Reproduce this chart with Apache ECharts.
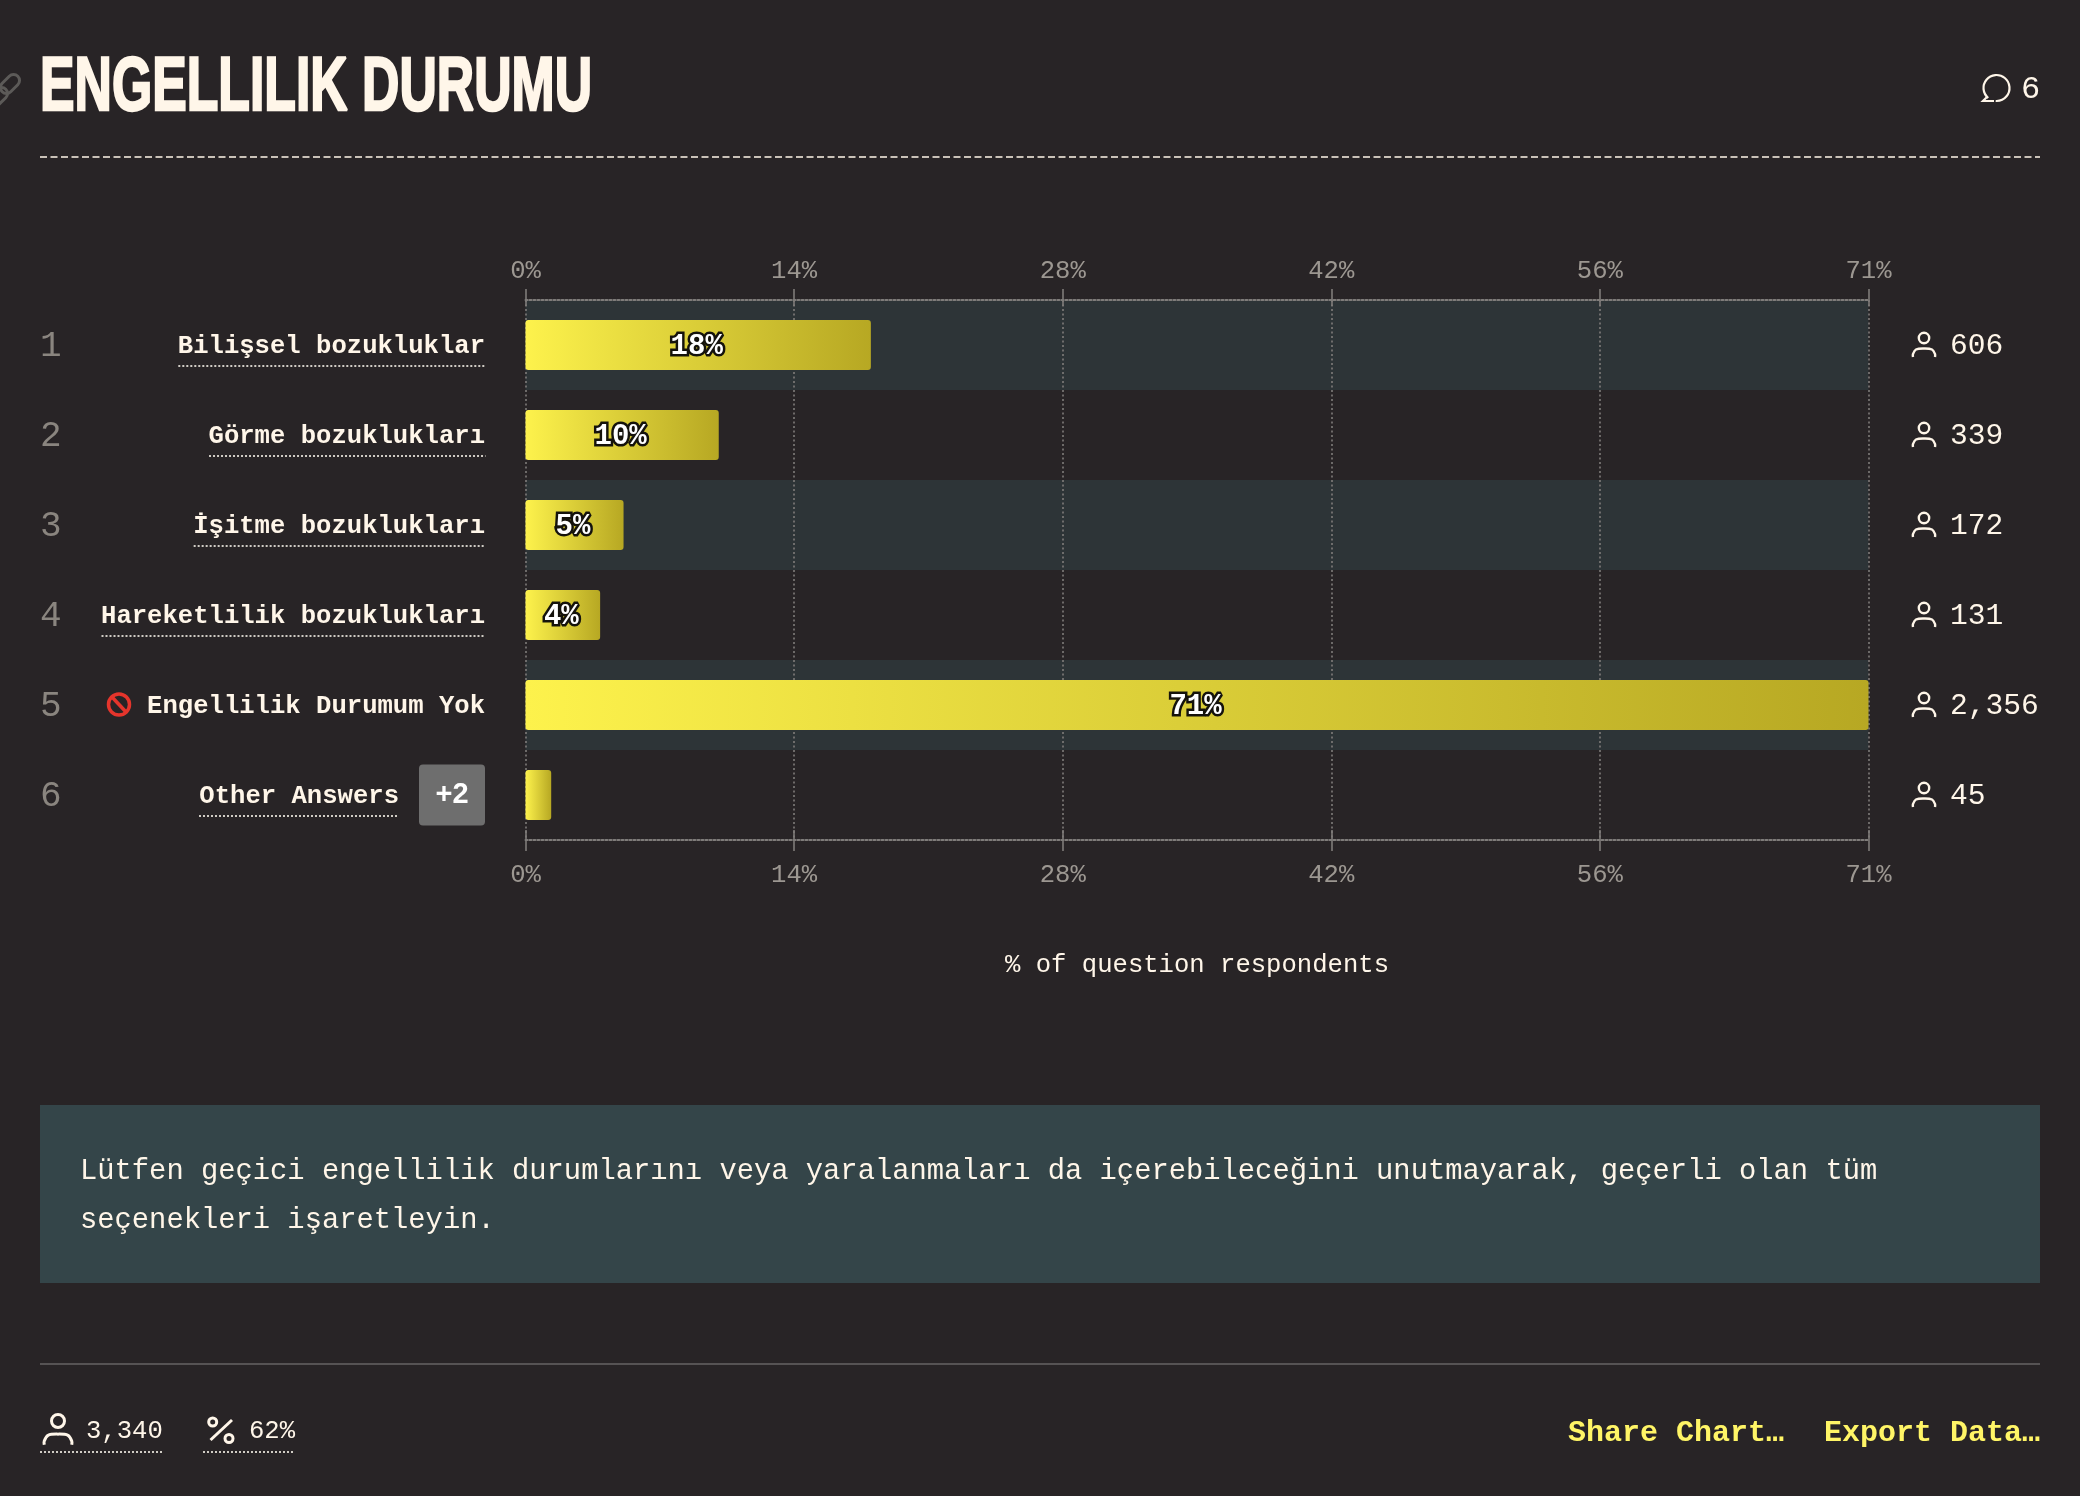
<!DOCTYPE html>
<html>
<head>
<meta charset="utf-8">
<style>html,body{margin:0;padding:0;background:#282426}#c{width:2080px;height:1496px}</style>
<script src="https://cdn.jsdelivr.net/npm/echarts@6/dist/echarts.min.js"></script>
</head>
<body>
<div id="c"></div>
<script>
const titleText = 'ENGELLILIK DURUMU';
const commentCount = '6';
const categories = ['Bilişsel bozukluklar','Görme bozuklukları','İşitme bozuklukları','Hareketlilik bozuklukları','Engellilik Durumum Yok','Other Answers'];
const ranks = ['1','2','3','4','5','6'];
const shares = [18.14,10.15,5.15,3.92,70.54,1.35];
const barLabels = ['18%','10%','5%','4%','71%',''];
const counts = ['606','339','172','131','2,356','45'];
const tickLabels = ['0%','14%','28%','42%','56%','71%'];
const axisMax = 70.54;
const axisName = '% of question respondents';
const noteLines = ['Lütfen geçici engellilik durumlarını veya yaralanmaları da içerebileceğini unutmayarak, geçerli olan tüm','seçenekleri işaretleyin.'];
const footerTotal = '3,340';
const footerPct = '62%';
const footerActions = ['Share Chart…','Export Data…'];
const otherBadge = '+2';

const BG='#282426', CREAM='#fff6e9', TICK='#7f7c7a', LABEL='#9c9791', MONO='"Liberation Mono","DejaVu Sans Mono",monospace';
const chart = echarts.init(document.getElementById('c'),null,{renderer:'canvas',devicePixelRatio:1});
const interval = axisMax/5;
const tickFmt = v => tickLabels[Math.round(v/interval)] ?? '';
const xBase = {type:'value',min:0,max:axisMax,interval:interval};
chart.setOption({
  animation:false,
  backgroundColor:BG,
  grid:{left:525.5,right:211.5,top:300,bottom:656,containLabel:false},
  xAxis:[
    {...xBase,position:'top',
      axisLine:{show:true,lineStyle:{color:TICK,width:2,type:[2,2]}},
      axisTick:{show:true,length:11,lineStyle:{color:TICK,width:1.6}},
      axisLabel:{show:true,formatter:tickFmt,color:LABEL,fontFamily:MONO,fontSize:25.6,margin:16},
      splitLine:{show:true,lineStyle:{color:TICK,width:1.6,type:[2,2.5]}}},
    {...xBase,position:'bottom',
      name:axisName,nameLocation:'middle',nameGap:112,nameTextStyle:{color:CREAM,fontFamily:MONO,fontSize:25.6},
      axisLine:{show:true,lineStyle:{color:TICK,width:2,type:[2,2]}},
      axisTick:{show:true,length:11,lineStyle:{color:TICK,width:1.6}},
      axisLabel:{show:true,formatter:tickFmt,color:LABEL,fontFamily:MONO,fontSize:25.6,margin:22},
      splitLine:{show:false}},
    {...xBase,position:'top',axisLine:{show:false},axisLabel:{show:false},splitLine:{show:false},
      axisTick:{show:true,inside:true,length:6,lineStyle:{color:TICK,width:1.6}}},
    {...xBase,position:'bottom',axisLine:{show:false},axisLabel:{show:false},splitLine:{show:false},
      axisTick:{show:true,inside:true,length:10,lineStyle:{color:TICK,width:1.6}}}
  ],
  yAxis:[
    {type:'category',data:categories,inverse:true,position:'left',
      axisLine:{show:false},axisTick:{show:false},splitLine:{show:false},
      splitArea:{show:true,areaStyle:{color:['#2d3437','rgba(0,0,0,0)']}},
      axisLabel:{color:CREAM,fontFamily:MONO,fontWeight:'bold',fontSize:25.6,margin:40.5,interval:0,
        formatter:(v,i)=> i===5 ? `{n|${v}}{g|}{b|${otherBadge}}` : `{t|${v}}`,
        rich:{
          t:{color:CREAM,fontFamily:MONO,fontWeight:'bold',fontSize:25.6,padding:[3,0,0,0]},
          n:{color:CREAM,fontFamily:MONO,fontWeight:'bold',fontSize:25.6,padding:[3,0,0,0]},
          g:{width:20},
          b:{backgroundColor:'#6e6e6e',color:'#fff',fontFamily:'"Liberation Sans"',fontWeight:'bold',fontSize:29,width:66,height:61,lineHeight:61,align:'center',borderRadius:4}
        }}},
    {type:'category',data:ranks,inverse:true,position:'left',
      axisLine:{show:false},axisTick:{show:false},splitLine:{show:false},splitArea:{show:false},
      axisLabel:{margin:485.5,align:'left',interval:0,formatter:v=>`{r|${v}}`,
        rich:{r:{color:'#8a857f',fontFamily:MONO,fontSize:36,padding:[3,0,0,0]}}}},
    {type:'category',data:counts,inverse:true,position:'right',
      axisLine:{show:false},axisTick:{show:false},splitLine:{show:false},splitArea:{show:false},
      axisLabel:{margin:81.5,align:'left',interval:0,formatter:v=>`{c|${v}}`,
        rich:{c:{color:CREAM,fontFamily:MONO,fontSize:29.6,padding:[3,0,0,0]}}}}
  ],
  series:[{
    type:'bar',xAxisIndex:0,yAxisIndex:0,barWidth:50,data:shares,z:3,
    itemStyle:{borderRadius:3,color:new echarts.graphic.LinearGradient(0,0,1,0,[{offset:0,color:'#fdf24c'},{offset:1,color:'#b7a823'}])},
    label:{show:true,position:'inside',offset:[-1.5,2],formatter:p=>barLabels[p.dataIndex],color:'#fff',fontFamily:MONO,fontWeight:'bold',fontSize:29,textBorderColor:'#15130c',textBorderWidth:5}
  }]
});

function personIcon(x,y,s,lw){ // x,y = centre of head
  return [
    {type:'circle',shape:{cx:x,cy:y,r:5.2*s},style:{fill:'transparent',stroke:CREAM,lineWidth:lw}},
    {type:'polyline',shape:{smooth:0.35,points:[[x-11*s,y+19*s],[x-11*s,y+16*s],[x-8*s,y+11.5*s],[x,y+10.5*s],[x+8*s,y+11.5*s],[x+11*s,y+16*s],[x+11*s,y+19*s]]},style:{fill:'transparent',stroke:CREAM,lineWidth:lw}}
  ];
}
function dotted(x1,x2,y){
  return {type:'line',shape:{x1,y1:y,x2,y2:y},style:{stroke:'#cfcbc4',lineWidth:2,lineDash:[2,2]}};
}
const rowY = categories.map((c,i)=>chart.convertToPixel({yAxisIndex:0},i));
const g = [];
const RIGHT = 485.5, CW = 15.36;
// title
g.push({type:'text',x:40,y:89.5,scaleX:0.681,style:{text:titleText,fill:CREAM,font:'bold 76px "Liberation Sans"',verticalAlign:'middle',stroke:CREAM,lineWidth:2.5}});
// header rule
g.push({type:'line',shape:{x1:40,y1:157,x2:2040,y2:157},style:{stroke:CREAM,lineWidth:1.6,lineDash:[7,3.5]}});
// link glyph
g.push({type:'rect',x:10,y:84,rotation:Math.PI/4,originX:0,originY:0,shape:{x:-11,y:-6,width:22,height:12,r:6},style:{fill:'transparent',stroke:'#5c5a58',lineWidth:3}});
g.push({type:'rect',x:-2,y:97,rotation:Math.PI/4,originX:0,originY:0,shape:{x:-11,y:-6,width:22,height:12,r:6},style:{fill:'transparent',stroke:'#5c5a58',lineWidth:3}});
// comment count
g.push({type:'arc',shape:{cx:1996.5,cy:88,r:13,startAngle:Math.PI*0.72,endAngle:Math.PI*0.52,clockwise:true},style:{stroke:CREAM,lineWidth:2.2,fill:'transparent'}});
g.push({type:'polyline',shape:{points:[[1987,97],[1983,101],[1994,101]]},style:{stroke:CREAM,lineWidth:2.2,fill:'transparent'}});
g.push({type:'text',x:2021,y:90,style:{text:commentCount,fill:CREAM,font:'32px '+MONO,verticalAlign:'middle'}});
// label underlines
categories.forEach((c,i)=>{
  if(i===4) return;
  if(i===5){ g.push(dotted(199,399,rowY[i]+21)); return; }
  g.push(dotted(RIGHT-c.length*CW,RIGHT,rowY[i]+21));
});
// no-entry glyph
g.push({type:'circle',shape:{cx:119,cy:rowY[4]-0.5,r:10.5},style:{fill:'transparent',stroke:'#e5352c',lineWidth:3.5}});
g.push({type:'line',shape:{x1:112,y1:rowY[4]-8,x2:126,y2:rowY[4]+7},style:{stroke:'#e5352c',lineWidth:3.5}});
// row person icons
rowY.forEach(y=>g.push(...personIcon(1924,y-7,1,2.4)));
// note box
g.push({type:'rect',shape:{x:40,y:1105,width:2000,height:178},style:{fill:'#344549'}});
noteLines.forEach((t,i)=>g.push({type:'text',x:80,y:1171.5+i*49,style:{text:t,fill:CREAM,font:'28.8px '+MONO,verticalAlign:'middle'}}));
// footer
g.push({type:'line',shape:{x1:40,y1:1364,x2:2040,y2:1364},style:{stroke:'#565354',lineWidth:2}});
g.push(...personIcon(58,1421,1.25,3));
g.push({type:'text',x:86,y:1431,style:{text:footerTotal,fill:CREAM,font:'25.6px '+MONO,verticalAlign:'middle'}});
g.push(dotted(40,163,1452));
g.push({type:'circle',shape:{cx:212.7,cy:1422,r:4},style:{fill:'transparent',stroke:CREAM,lineWidth:3}});
g.push({type:'circle',shape:{cx:229,cy:1438.5,r:4},style:{fill:'transparent',stroke:CREAM,lineWidth:3}});
g.push({type:'line',shape:{x1:210.5,y1:1440,x2:232,y2:1420},style:{stroke:CREAM,lineWidth:3}});
g.push({type:'text',x:249,y:1431,style:{text:footerPct,fill:CREAM,font:'25.6px '+MONO,verticalAlign:'middle'}});
g.push(dotted(203,295,1452));
g.push({type:'text',x:1568,y:1433,style:{text:footerActions[0],fill:'#fff566',font:'bold 30px '+MONO,verticalAlign:'middle'}});
g.push({type:'text',x:1824,y:1433,style:{text:footerActions[1],fill:'#fff566',font:'bold 30px '+MONO,verticalAlign:'middle'}});
chart.setOption({graphic:{elements:g}});
</script>
</body>
</html>
